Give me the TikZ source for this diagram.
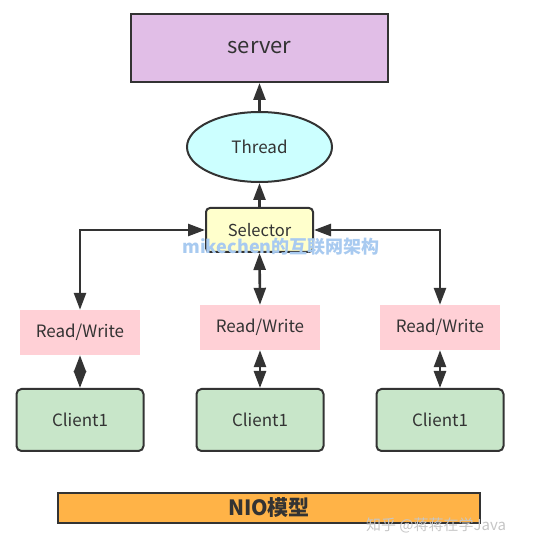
\documentclass[tikz,border=0pt]{standalone}
\usepackage{fontspec}
\setmainfont{Noto Sans CJK SC}
\usetikzlibrary{arrows.meta,shapes.geometric}

\definecolor{linecol}{HTML}{333333}
\definecolor{serverfill}{HTML}{E1BEE7}
\definecolor{threadfill}{HTML}{CCFFFF}
\definecolor{selfill}{HTML}{FFFFCC}
\definecolor{rwfill}{HTML}{FFD0D6}
\definecolor{clientfill}{HTML}{C8E6C9}
\definecolor{niofill}{HTML}{FFB347}
\definecolor{markblue}{HTML}{A8CAF0}

\tikzset{
    box/.style={draw=linecol, line width=2pt, inner sep=0pt, text=linecol},
    rwbox/.style={fill=rwfill, inner sep=0pt, minimum width=120pt, minimum height=45pt,
        text=linecol, font=\fontsize{17}{19}\selectfont},
    clientbox/.style={box, fill=clientfill, rounded corners=5pt, minimum width=127pt,
        minimum height=62pt, font=\fontsize{17}{19}\selectfont},
    tip/.tip={Triangle[length=17pt,width=12pt]},
    link/.style={draw=linecol, line width=2.6pt, -tip},
    link2/.style={draw=linecol, line width=2.6pt, tip-tip}
}

\begin{document}
\begin{tikzpicture}[x=1pt, y=-1pt]
                    \useasboundingbox (0, 0) rectangle (550, 548);

                    %%top
                    \node[box, fill=serverfill, minimum width=257pt, minimum height=68pt,
                        font=\fontsize{22}{25}\selectfont] (server) at (259.5, 48){server};
                    \node[box, ellipse, fill=threadfill, minimum width=145pt, minimum height=70pt,
                        font=\fontsize{17}{19}\selectfont] (thread) at (259.5, 147){Thread};
                    \node[box, fill=selfill, rounded corners=4pt, minimum width=107pt, minimum height=44pt,
                        font=\fontsize{16.5}{18}\selectfont] (sel) at (259.5, 230){Selector};

                    %%read/write
                    \node[rwbox] (rw1) at (80, 332.5){Read/Write};
                    \node[rwbox] (rw2) at (260, 327.5){Read/Write};
                    \node[rwbox] (rw3) at (440, 327.5){Read/Write};

                    %%clients
                    \node[clientbox] (cl1) at (80, 420){Client1};
                    \node[clientbox] (cl2) at (260, 420){Client1};
                    \node[clientbox] (cl3) at (440, 420){Client1};

                    %%bottom
                    \node[box, fill=niofill, minimum width=422pt, minimum height=30pt,
                        font=\fontsize{21}{24}\selectfont\bfseries] (nio) at (269, 508){NIO模型};

                    %%arrows
                    \draw[link] (thread) to (server);
                    \draw[link] (sel) to (thread);
                    \draw[link2] (sel.west) -| (rw1.north);
                    \draw[link2] (sel.south) to (rw2.north);
                    \draw[link2] (sel.east) -| (rw3.north);
                        \draw[link2] (rw1) to (cl1);
                        \draw[link2] (rw2) to (cl2);
                        \draw[link2] (rw3) to (cl3);

                    %%marks
                    \node[text=markblue, font=\fontsize{18}{20}\selectfont\bfseries] (mark1) at (281, 247){mikechen的互联网架构};
                    \node[text=gray!45, font=\fontsize{15}{17}\selectfont] (mark2) at (436, 525){知乎 @蒋蒋在学Java};

                \end{tikzpicture}
\end{document}
